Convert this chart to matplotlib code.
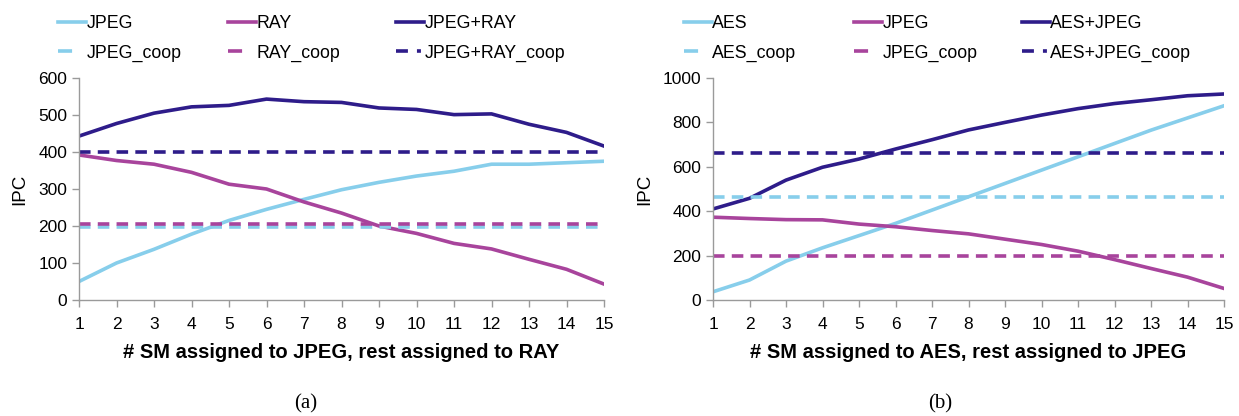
import matplotlib
matplotlib.use("Agg")
import matplotlib.pyplot as plt
from matplotlib.lines import Line2D

plt.rcParams['font.family'] = ['Liberation Sans', 'DejaVu Sans']

x = list(range(1, 16))

# Chart (a)
a_jpeg = [50, 100, 137, 178, 215, 245, 272, 298, 318, 335, 348, 367, 367, 371, 375]
a_ray = [392, 377, 367, 345, 313, 300, 265, 235, 200, 180, 153, 138, 110, 83, 43]
a_sum = [443, 477, 505, 522, 526, 543, 536, 534, 519, 515, 501, 503, 475, 453, 416]
a_jpeg_coop = 197
a_ray_coop = 205
a_sum_coop = 400
a_names = ["JPEG", "RAY", "JPEG+RAY", "JPEG_coop", "RAY_coop", "JPEG+RAY_coop"]

# Chart (b)
b_aes = [37, 90, 175, 235, 290, 345, 405, 465, 525, 585, 645, 705, 765, 820, 875]
b_jpeg = [373, 367, 362, 361, 342, 330, 313, 298, 274, 250, 220, 182, 142, 103, 52]
b_sum = [410, 458, 540, 598, 635, 680, 722, 766, 800, 833, 862, 885, 902, 920, 928]
b_aes_coop = 465
b_jpeg_coop = 197
b_sum_coop = 663
b_names = ["AES", "JPEG", "AES+JPEG", "AES_coop", "JPEG_coop", "AES+JPEG_coop"]

C1 = "#87CEEB"
C2 = "#A8449C"
C3 = "#2E1C8A"
GRAY = "#9A9A9A"

W, H = 1239, 416
fig = plt.figure(figsize=(W / 100, H / 100), dpi=100)


def panel(rect, series, coops, names, ymax, ystep, xlabel, cap, capx, leg_x):
    ax = fig.add_axes(rect)
    lw = 2.6
    cols = [C1, C2, C3]
    for s, c in zip(series, cols):
        ax.plot(x, s, color=c, lw=lw)
    ds = (0, (3.2, 2.0))
    for v, c in zip(coops, cols):
        ax.plot(x, [v] * len(x), color=c, lw=lw, linestyle=ds)
    ax.set_xlim(1, 15)
    ax.set_ylim(0, ymax)
    ax.set_xticks(x)
    ax.set_yticks(range(0, ymax + 1, ystep))
    for sp in ["top", "right"]:
        ax.spines[sp].set_visible(False)
    for sp in ["left", "bottom"]:
        ax.spines[sp].set_color(GRAY)
        ax.spines[sp].set_linewidth(1.0)
    ax.tick_params(axis="both", colors=GRAY, labelcolor="black", labelsize=12.5,
                   length=5, width=1.0, direction="out")
    ax.tick_params(axis="x", pad=7)
    ax.set_ylabel("IPC", fontsize=13.5, labelpad=7)
    ax.set_xlabel(xlabel, fontsize=14.5, fontweight="bold", labelpad=8)
    coop_styles = [(0, (3.9, 6)), (0, (3.9, 6)), (0, (3.3, 2.5, 1.1, 10))]
    for i in range(3):
        handles = [Line2D([], [], color=cols[i], lw=lw),
                   Line2D([], [], color=cols[i], lw=lw, linestyle=coop_styles[i])]
        labels = [names[i], names[i + 3]]
        fig.legend(handles, labels, loc="upper left",
                   bbox_to_anchor=(leg_x[i] / W, 1 - 15 / H), frameon=False,
                   fontsize=12.8, handlelength=1.6, handletextpad=0.0,
                   labelspacing=0.7, borderaxespad=0, borderpad=0)
    fig.text(capx, 0.005, cap, ha="center", va="bottom", fontsize=15,
             family=["Liberation Serif", "DejaVu Serif"])
    return ax


panel([79 / W, 1 - 300 / H, (604 - 79) / W, 222 / H], [a_jpeg, a_ray, a_sum],
      [a_jpeg_coop, a_ray_coop, a_sum_coop], a_names, 600, 100,
      "# SM assigned to JPEG, rest assigned to RAY", "(a)", 306 / W,
      [58, 228, 396])
panel([713 / W, 1 - 300 / H, (1224 - 713) / W, 222 / H], [b_aes, b_jpeg, b_sum],
      [b_aes_coop, b_jpeg_coop, b_sum_coop], b_names, 1000, 200,
      "# SM assigned to AES, rest assigned to JPEG", "(b)", 940 / W,
      [684, 854, 1022])

fig.savefig("out.png", dpi=100)
